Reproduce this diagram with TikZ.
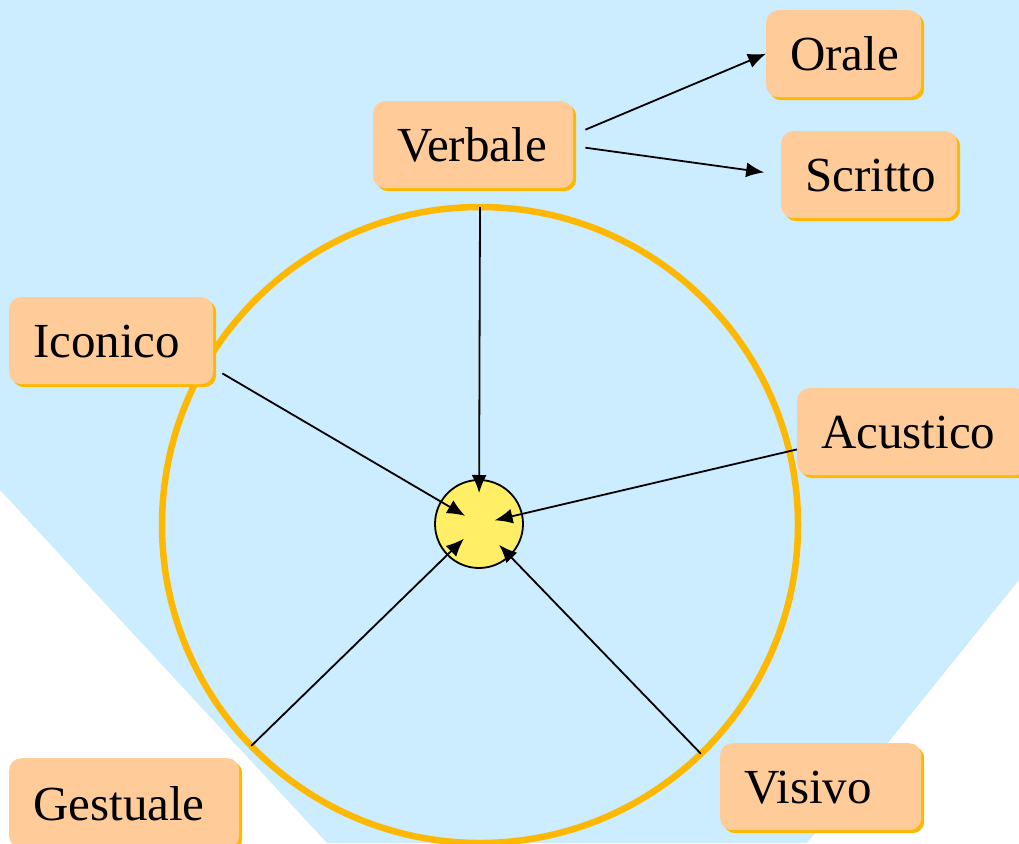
\documentclass[tikz,border=0pt]{standalone}
\usepackage{fontspec}
\setmainfont{Liberation Serif}
\usetikzlibrary{shadows,calc,arrows.meta}
\definecolor{bgColor}{RGB}{204,236,255}
\definecolor{boxColor}{RGB}{255,204,153}
\definecolor{goldColor}{RGB}{255,184,0}
\definecolor{hubColor}{RGB}{255,238,102}

\begin{document}
\begin{tikzpicture}[x=1pt,y=-1pt]
    \tikzstyle{label} = [rectangle,rounded corners=12pt,fill=boxColor,anchor=north west,align=left,
      inner xsep=24pt,inner ysep=0pt,minimum height=87pt,text height=34pt,text depth=0pt,
      font=\fontsize{49}{58}\selectfont,
      general shadow={fill=goldColor,shadow xshift=3pt,shadow yshift=-3pt}]
    \tikzstyle{ring} = [circle,draw=goldColor,line width=6.5pt,inner sep=0pt,outer sep=0pt,minimum size=636pt]
    \tikzstyle{hub} = [circle,draw=black,fill=hubColor,line width=1.8pt,inner sep=0pt,minimum size=88pt]
    \tikzstyle{link} = [->,line width=1.8pt]
    \tikzset{>={Latex[length=18pt,width=15pt]}}

    \useasboundingbox (0,0) rectangle (1019,843);
    \clip (0,0) rectangle (1019,843);
    \fill [bgColor] (0,0) -- (1019,0) -- (1019,580) -- (807,843) -- (327,843) -- (0,490) -- cycle;

    \node [ring] (ring) at (480,525) {};
    \node [hub] (hub) at (479,524) {};

    \node [label, text width=152pt] (verbale) at (373,101) {Verbale};
    \node [label, text width=107pt] (orale) at (766,10) {Orale};
    \node [label, text width=128pt] (scritto) at (781,131) {Scritto};
    \node [label, text width=156pt] (iconico) at (9,297) {Iconico};
    \node [label, text width=182pt] (acustico) at (797,388) {Acustico};
    \node [label, text width=182pt, minimum height=90pt] (gestuale) at (9,758) {Gestuale};
    \node [label, text width=153pt] (visivo) at (720,743) {Visivo};

    \coordinate (verbaleup) at ($(verbale.east)+(12,-15)$);
    \coordinate (verbaledown) at ($(verbale.east)+(12,3)$);
    \draw [link] (verbaleup) -- (orale.west);
    \draw [link, shorten >=17pt] (verbaledown) -- (scritto.west);

    \coordinate (iconicoend) at ($(iconico.south east)+(9,-11)$);
    \coordinate (acusticoend) at ($(acustico.south west)+(0,-26)$);
    \draw [link, shorten >=31pt] (ring.90) -- (hub.center);
    \draw [link, shorten >=16pt] (iconicoend) -- (hub.center);
    \draw [link, shorten >=16pt] (acusticoend) -- (hub.center);
    \draw [link, shorten >=21pt] (ring.224) -- (hub.center);
    \draw [link, shorten >=29pt] (ring.314) -- (hub.center);

\end{tikzpicture}
\end{document}
